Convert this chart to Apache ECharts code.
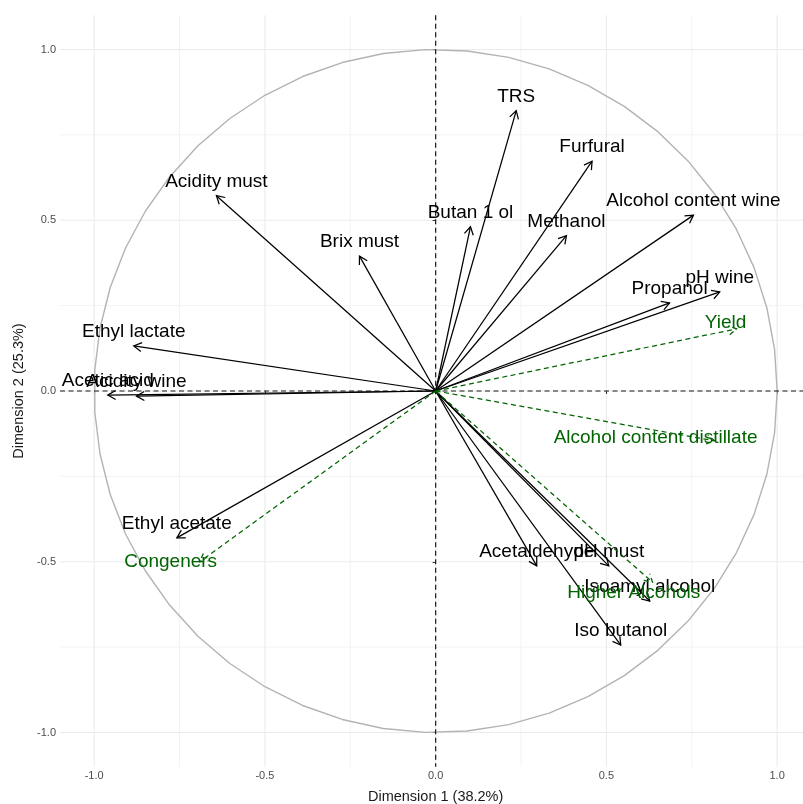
<!DOCTYPE html>
<html>
<head>
<meta charset="utf-8">
<script src="https://cdn.jsdelivr.net/npm/echarts@6/dist/echarts.min.js"></script>
<style>
html,body{margin:0;padding:0;background:#fff;overflow:hidden;width:100%;height:100%;}
#chart{width:803px;height:804px;position:absolute;left:0;top:0;}
</style>
</head>
<body>
<div id="chart"></div>
<script>
// Active variables
const activeNames = ["TRS","Furfural","Alcohol content wine","Methanol","Butan 1 ol","Acidity must","Brix must","Propanol","pH wine","Ethyl lactate","Acidity wine","Acetic acid","Ethyl acetate","Acetaldehyde","pH must","Isoamyl alcohol","Iso butanol"];
const activeDim1 = [0.236,0.458,0.755,0.383,0.102,-0.642,-0.223,0.685,0.832,-0.884,-0.876,-0.960,-0.758,0.296,0.507,0.627,0.542];
const activeDim2 = [0.821,0.673,0.515,0.455,0.481,0.572,0.395,0.258,0.290,0.132,-0.015,-0.012,-0.430,-0.512,-0.512,-0.615,-0.744];

// Supplementary variables
const supNames = ["Yield","Alcohol content distillate","Higher Alcohols","Congeners"];
const supDim1 = [0.881,0.817,0.635,-0.691];
const supDim2 = [0.182,-0.146,-0.560,-0.500];
const supLabelDim1 = [0.849,0.644,0.580,-0.776];
const supLabelDim2 = [0.202,-0.135,-0.589,-0.498];

// Axes
const tickValues = [-1,-0.5,0,0.5,1];
const minorValues = [-0.75,-0.25,0.25,0.75];
const axisMin = -1.1, axisMax = 1.1;
const xTitle = "Dimension 1 (38.2%)";
const yTitle = "Dimension 2 (25.3%)";

const circlePts = [];
const N = 52;
for (let i = 0; i < N; i++) {
  const t = 2 * Math.PI * i / (N - 1);
  circlePts.push([Math.cos(t), Math.sin(t)]);
}

const gridData = [];
tickValues.forEach(v => { gridData.push([v, 0, 1]); gridData.push([v, 1, 1]); });
minorValues.forEach(v => { gridData.push([v, 0, 0]); gridData.push([v, 1, 0]); });

const FONT = "'Liberation Sans', Arial, sans-serif";

function arrowShapes(o, t, color, dash) {
  const ang = Math.atan2(t[1] - o[1], t[0] - o[0]);
  const L = 9, a = Math.PI / 6;
  const p1 = [t[0] - L * Math.cos(ang - a), t[1] - L * Math.sin(ang - a)];
  const p2 = [t[0] - L * Math.cos(ang + a), t[1] - L * Math.sin(ang + a)];
  return [
    { type: 'line', shape: { x1: o[0], y1: o[1], x2: t[0], y2: t[1] },
      style: { stroke: color, lineWidth: 1.25, lineDash: dash } },
    { type: 'polyline', shape: { points: [p1, t, p2] },
      style: { stroke: color, lineWidth: 1.25, fill: null, lineDash: dash } }
  ];
}

const chart = echarts.init(document.getElementById('chart'), null, { renderer: 'canvas', width: 803, height: 804 });
const option = {
  animation: false,
  backgroundColor: '#fff',
  grid: { left: 60, top: 15.35, width: 751.3, height: 751.3, containLabel: false, outerBoundsMode: 'none' },
  xAxis: {
    type: 'value', min: axisMin, max: axisMax,
    axisLine: { show: false },
    splitLine: { show: false },
    axisTick: { show: true, customValues: tickValues, length: 3, lineStyle: { color: '#333', width: 1 } },
    axisLabel: { customValues: tickValues, color: '#4d4d4d', fontSize: 11, fontFamily: FONT, margin: 4,
      formatter: v => v.toFixed(1) },
    name: xTitle, nameLocation: 'middle', nameGap: 23,
    nameTextStyle: { color: '#1a1a1a', fontSize: 14.5, fontFamily: FONT }
  },
  yAxis: {
    type: 'value', min: axisMin, max: axisMax,
    axisLine: { show: false },
    splitLine: { show: false },
    axisTick: { show: true, customValues: tickValues, length: 3, lineStyle: { color: '#333', width: 1 } },
    axisLabel: { customValues: tickValues, color: '#4d4d4d', fontSize: 11, fontFamily: FONT, margin: 4,
      formatter: v => v.toFixed(1) },
    name: yTitle, nameLocation: 'middle', nameGap: 33, nameRotate: 90,
    nameTextStyle: { color: '#1a1a1a', fontSize: 14.5, fontFamily: FONT }
  },
  series: [
    {
      type: 'custom', name: 'grid', silent: true, z: 0,
      data: gridData,
      renderItem: function (params, api) {
        const cs = params.coordSys;
        const v = api.value(0), ori = api.value(1), major = api.value(2);
        let shape;
        if (ori === 0) {
          const p = api.coord([v, 0]);
          shape = { x1: p[0], y1: cs.y, x2: p[0], y2: cs.y + cs.height };
        } else {
          const p = api.coord([0, v]);
          shape = { x1: cs.x, y1: p[1], x2: cs.x + cs.width, y2: p[1] };
        }
        return { type: 'line', shape: shape,
          style: { stroke: '#ebebeb', lineWidth: major ? 1.1 : 0.6 } };
      }
    },
    {
      type: 'line', name: 'circle', data: circlePts, showSymbol: false, silent: true, z: 1,
      lineStyle: { color: '#b3b3b3', width: 1.4 }, itemStyle: { color: '#b3b3b3' }
    },
    {
      type: 'custom', name: 'zero', silent: true, z: 2,
      data: [[0, 0], [0, 1]],
      renderItem: function (params, api) {
        const cs = params.coordSys;
        const o = api.coord([0, 0]);
        const shape = api.value(1) === 0
          ? { x1: o[0], y1: cs.y, x2: o[0], y2: cs.y + cs.height }
          : { x1: cs.x, y1: o[1], x2: cs.x + cs.width, y2: o[1] };
        return { type: 'line', shape: shape, style: { stroke: '#1a1a1a', lineWidth: 1.2, lineDash: [5, 3.5] } };
      }
    },
    {
      type: 'custom', name: 'active', silent: true, z: 3,
      data: activeNames.map((n, i) => [activeDim1[i], activeDim2[i], n]),
      renderItem: function (params, api) {
        const o = api.coord([0, 0]);
        const t = api.coord([api.value(0), api.value(1)]);
        const children = arrowShapes(o, t, '#000', null);
        children.push({ type: 'text', x: t[0], y: t[1] - 14,
          style: { text: activeNames[params.dataIndex], fill: '#000', fontSize: 19, fontFamily: FONT,
            align: 'center', verticalAlign: 'middle' } });
        return { type: 'group', children: children };
      }
    },
    {
      type: 'custom', name: 'sup', silent: true, z: 4,
      data: supNames.map((n, i) => [supDim1[i], supDim2[i], supLabelDim1[i], supLabelDim2[i]]),
      renderItem: function (params, api) {
        const o = api.coord([0, 0]);
        const t = api.coord([api.value(0), api.value(1)]);
        const lp = api.coord([api.value(2), api.value(3)]);
        const children = arrowShapes(o, t, '#006400', [5, 3.5]);
        children.push({ type: 'text', x: lp[0], y: lp[1] + 1,
          style: { text: supNames[params.dataIndex], fill: '#006400', fontSize: 19, fontFamily: FONT,
            align: 'center', verticalAlign: 'middle' } });
        return { type: 'group', children: children };
      }
    }
  ]
};
chart.setOption(option);
</script>
</body>
</html>
